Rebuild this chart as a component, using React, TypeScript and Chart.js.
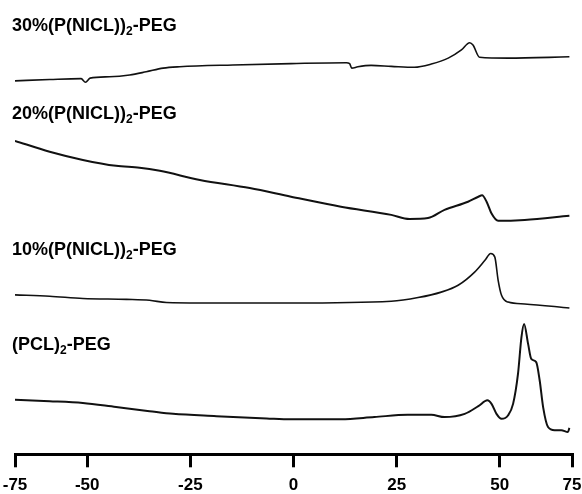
import { useEffect, useRef } from "react";
import { Chart, registerables } from "chart.js";

Chart.register(...registerables);

// Temperature axis (°C) tick labels
const tickTemps = [-75, -50, -25, 0, 25, 50, 75];

// Series names (subscript shown with ₂)
const seriesNames = [
  "30%(P(NICL))₂-PEG",
  "20%(P(NICL))₂-PEG",
  "10%(P(NICL))₂-PEG",
  "(PCL)₂-PEG",
];
// Heat-flow level (a.u.) at which each name sits
const labelLevels = [93.2, 73.7, 43.9, 23.0];

// 30%(P(NICL))2-PEG
const temps30 = [-75, -63.0, -52.1, -50.6, -49.3, -44.6, -39.7, -35.7, -31.6, -27.6, -14.7, -0.6, 12.8, 13.6, 14.1, 15.6, 18.8, 23.7, 29.3, 33.4, 37.5, 40.7, 42.7, 43.5, 45.1, 52.9, 74.1];
const flow30 = [82.2, 82.5, 82.7, 81.9, 82.8, 83.1, 83.5, 84.2, 85.0, 85.3, 85.7, 86.0, 86.2, 86.0, 85.0, 85.3, 85.6, 85.4, 85.2, 85.9, 87.2, 89.0, 90.6, 90.1, 87.4, 87.2, 87.5];

// 20%(P(NICL))2-PEG
const temps20 = [-75, -63.0, -51.5, -43.0, -37.3, -32.4, -22.7, -10.6, -0.6, 11.5, 23.7, 28.1, 32.6, 36.6, 42.3, 44.8, 45.7, 46.8, 48.0, 49.6, 58.6, 74.1];
const flow20 = [69.0, 66.6, 64.8, 63.5, 63.1, 62.4, 60.4, 58.6, 56.7, 54.5, 52.7, 51.8, 52.0, 53.8, 55.6, 56.7, 57.0, 55.6, 53.0, 51.4, 51.6, 52.5];

// 10%(P(NICL))2-PEG
const temps10 = [-75, -63.0, -51.5, -40.5, -34.9, -30.8, -22.7, -0.6, 23.7, 30.2, 35.8, 39.9, 43.9, 46.4, 47.8, 48.8, 49.6, 50.6, 52.9, 58.6, 74.1];
const flow10 = [35.1, 34.8, 34.3, 34.1, 33.9, 33.4, 33.3, 33.3, 33.7, 34.5, 35.7, 37.2, 40.1, 42.7, 44.2, 43.4, 38.3, 35.0, 33.5, 33.1, 32.2];

// (PCL)2-PEG
const tempsPCL = [-75, -63.0, -51.5, -43.0, -34.9, -29.2, -18.7, -6.5, -0.6, 11.5, 19.6, 27.7, 33.4, 36.6, 41.5, 44.8, 47.0, 48.0, 49.2, 50.6, 52.9, 54.6, 56.3, 57.5, 58.4, 59.8, 60.9, 62.6, 63.8, 65.0, 66.7, 69.0, 71.3, 73.6, 74.1];
const flowPCL = [12.0, 11.7, 11.3, 10.4, 9.5, 8.9, 8.4, 7.9, 7.7, 7.7, 8.2, 8.7, 8.7, 8.2, 8.9, 10.6, 11.9, 11.1, 8.9, 7.8, 8.6, 11.1, 17.7, 25.8, 28.7, 24.3, 21.0, 20.3, 16.3, 10.4, 6.0, 5.3, 5.3, 4.9, 5.8];

// The printed axis compresses its two end intervals (-75..-50 and 50..75)
const END_RATIO = 0.7;
function toAxis(t: number): number {
  if (t < -50) return -50 + (t + 50) * END_RATIO;
  if (t > 50) return 50 + (t - 50) * END_RATIO;
  return t;
}

function pts(ts: number[], vs: number[]) {
  return ts.map((t, i) => ({ x: toAxis(t), y: vs[i] }));
}

const FONT = '"Liberation Sans", Arial, Helvetica, sans-serif';

const labelPlugin = {
  id: "seriesLabels",
  afterDatasetsDraw(chart: any) {
    const { ctx, chartArea, scales } = chart;
    ctx.save();
    ctx.fillStyle = "#000";
    ctx.textBaseline = "alphabetic";
    ctx.textAlign = "left";
    seriesNames.forEach((name, i) => {
      const y = scales.y.getPixelForValue(labelLevels[i]);
      let x = chartArea.left - 3;
      const parts = name.split("₂");
      ctx.font = `bold 18px ${FONT}`;
      ctx.fillText(parts[0], x, y);
      x += ctx.measureText(parts[0]).width;
      ctx.font = `bold 12px ${FONT}`;
      ctx.fillText("2", x, y + 4);
      x += ctx.measureText("2").width;
      ctx.font = `bold 18px ${FONT}`;
      ctx.fillText(parts[1], x, y);
    });
    ctx.restore();
  },
};

const lineWidths = [1.6, 2, 1.6, 2];

export default function App() {
  const ref = useRef<HTMLCanvasElement | null>(null);
  useEffect(() => {
    document.body.style.margin = "0";
    if (!ref.current) return;
    const mk = (data: { x: number; y: number }[], i: number) => ({
      label: seriesNames[i],
      data,
      borderColor: "#111",
      borderWidth: lineWidths[i],
      pointRadius: 0,
      fill: false,
      cubicInterpolationMode: "monotone" as const,
    });
    const chart = new Chart(ref.current, {
      type: "line",
      data: {
        datasets: [
          mk(pts(temps30, flow30), 0),
          mk(pts(temps20, flow20), 1),
          mk(pts(temps10, flow10), 2),
          mk(pts(tempsPCL, flowPCL), 3),
        ],
      },
      options: {
        animation: false,
        responsive: false,
        layout: { padding: { left: 15, right: 10, top: 0, bottom: 0 } },
        plugins: { legend: { display: false }, tooltip: { enabled: false } },
        scales: {
          x: {
            type: "linear",
            min: toAxis(-75),
            max: toAxis(75),
            afterBuildTicks: (scale: any) => {
              scale.ticks = tickTemps.map((t) => ({ value: toAxis(t) }));
            },
            afterFit: (scale: any) => {
              scale.paddingLeft = 0;
              scale.paddingRight = 0;
              scale.height = 39.7;
            },
            grid: {
              display: true,
              drawOnChartArea: false,
              drawTicks: true,
              tickLength: 13,
              lineWidth: 3,
              color: "#000",
            },
            border: { display: true, width: 3, color: "#000" },
            ticks: {
              autoSkip: false,
              maxRotation: 0,
              padding: 8,
              color: "#000",
              font: { family: FONT, size: 17, weight: "bold" },
              callback: (_v: any, i: number) => String(tickTemps[i]),
            },
          },
          y: { display: false, min: 0, max: 100 },
        },
      },
      plugins: [labelPlugin],
    });
    return () => chart.destroy();
  }, []);
  return <canvas ref={ref} width={582} height={494} style={{ display: "block" }} />;
}
